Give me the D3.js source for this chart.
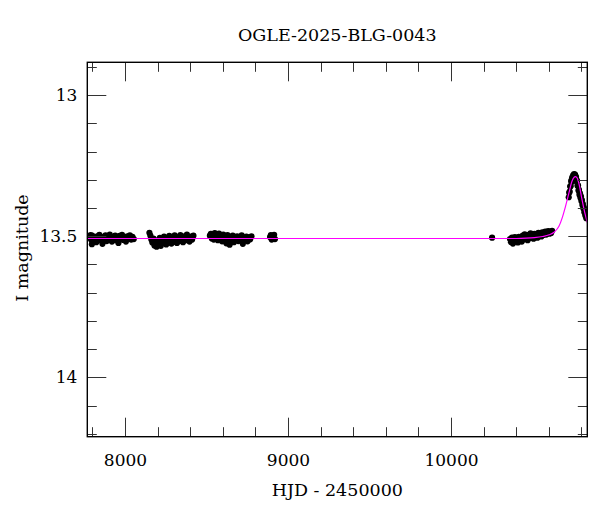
<!DOCTYPE html>
<html>
<head>
<meta charset="utf-8">
<script src="https://cdn.jsdelivr.net/npm/d3@7"></script>
<style>
  html, body { margin: 0; padding: 0; background: #fff; }
  svg { display: block; }
  text { font-family: "DejaVu Serif", "Liberation Serif", serif; fill: #000; }
</style>
</head>
<body>
<svg id="chart" width="600" height="512"></svg>
<script>
// ---------- data ----------
const title = "OGLE-2025-BLG-0043";
const xLabel = "HJD - 2450000";
const yLabel = "I magnitude";
const xTicks = [8000, 9000, 10000];
const yTicks = [13, 13.5, 14];
const xDomain = [7769, 10836];
const yDomain = [12.884, 14.21];

// photometry: [HJD-2450000, I mag]
const season1 = [
  [7786,13.505],[7789,13.496],[7792,13.512],[7797,13.528],[7799,13.498],[7805,13.516],[7811,13.503],[7818,13.509],[7824,13.521],
  [7830,13.500],[7837,13.511],[7843,13.495],[7850,13.514],[7856,13.506],[7862,13.527],[7869,13.502],
  [7875,13.512],[7881,13.497],[7888,13.517],[7894,13.507],[7901,13.513],[7907,13.494],[7914,13.508],
  [7920,13.519],[7927,13.503],[7933,13.511],[7940,13.498],[7946,13.514],[7953,13.506],[7960,13.524],
  [7967,13.499],[7974,13.510],[7982,13.495],[7990,13.513],[7998,13.505],[8006,13.519],[8014,13.500],
  [8022,13.509],[8030,13.497],[8038,13.512],[8046,13.502],[8054,13.510]
];
const season2 = [
  [8150,13.488],[8156,13.498],[8162,13.512],[8168,13.522],[8175,13.508],[8181,13.533],[8188,13.515],
  [8194,13.537],[8201,13.518],[8207,13.529],[8214,13.506],[8220,13.534],[8227,13.514],[8233,13.524],
  [8240,13.501],[8246,13.519],[8253,13.529],[8259,13.510],[8266,13.522],[8272,13.499],[8279,13.516],
  [8285,13.526],[8292,13.506],[8298,13.520],[8305,13.497],[8312,13.513],[8319,13.524],[8326,13.503],
  [8333,13.517],[8340,13.496],[8348,13.511],[8356,13.521],[8364,13.500],[8372,13.514],[8380,13.494],
  [8388,13.509],[8396,13.519],[8404,13.501],[8412,13.512],[8420,13.498]
];
const season3 = [
  [8521,13.498],[8527,13.492],[8533,13.508],[8539,13.495],[8545,13.512],[8551,13.489],[8558,13.505],
  [8564,13.497],[8570,13.514],[8577,13.491],[8583,13.507],[8590,13.499],[8596,13.518],[8603,13.494],
  [8609,13.509],[8616,13.501],[8622,13.525],[8629,13.496],[8635,13.511],[8642,13.530],[8648,13.503],
  [8655,13.515],[8661,13.498],[8668,13.521],[8674,13.505],[8681,13.513],[8688,13.500],[8695,13.517],
  [8702,13.504],[8709,13.512],[8716,13.497],[8723,13.527],[8730,13.506],[8737,13.514],[8745,13.501],
  [8752,13.518],[8760,13.504],[8768,13.511],[8776,13.500]
];
const season4 = [
  [8890,13.503],[8895,13.496],[8900,13.512],[8905,13.500],[8910,13.508],[8915,13.495],[8920,13.510]
];
const season5 = [
  [10252,13.505],
  [10362,13.510],[10368,13.521],[10374,13.505],[10380,13.526],[10386,13.512],[10392,13.503],
  [10398,13.518],[10404,13.508],[10410,13.522],[10416,13.502],[10422,13.515],[10428,13.504],
  [10434,13.519],[10440,13.498],[10446,13.511],[10452,13.493],[10458,13.508],[10464,13.500],
  [10470,13.514],[10476,13.495],[10482,13.506],[10488,13.490],[10494,13.503],[10500,13.496],
  [10506,13.509],[10512,13.492],[10518,13.502],[10524,13.494],[10530,13.505],[10536,13.488],
  [10542,13.499],[10548,13.491],[10554,13.501],[10560,13.486],[10566,13.496],[10572,13.488],
  [10578,13.484],[10584,13.494],[10590,13.486],[10596,13.482],[10602,13.491],[10608,13.484],
  [10614,13.489],[10620,13.481]
];
const season6 = [
  [10722,13.362],[10725,13.346],[10728,13.342],[10731,13.324],[10734,13.322],[10737,13.304],
  [10740,13.307],[10743,13.292],[10746,13.297],[10749,13.284],[10752,13.291],[10755,13.280],
  [10758,13.290],[10761,13.282],[10764,13.295],[10767,13.290],[10770,13.306],[10773,13.303],
  [10776,13.321],[10779,13.320],[10782,13.338],[10785,13.336],[10788,13.353],[10791,13.348],
  [10794,13.364],[10797,13.359],[10800,13.375],[10803,13.372],[10806,13.389],[10809,13.386],
  [10812,13.402],[10815,13.399],[10818,13.415],[10821,13.411],[10824,13.427],[10827,13.423],
  [10830,13.436]
];
// model curve: [HJD-2450000, I mag]
const model = [
  [7769,13.508],[10400,13.508],[10462,13.507],[10512,13.505],[10562,13.501],[10602,13.495],
  [10632,13.486],[10662,13.465],[10682,13.435],[10702,13.395],[10722,13.350],[10742,13.305],
  [10752,13.293],[10764,13.289],[10774,13.294],[10784,13.312],[10802,13.365],[10822,13.420],
  [10836,13.452]
];

// ---------- layout ----------
const svg = d3.select("#chart");
const L = 87.3, R = 587.3, T = 62.3, B = 436.7;
const x = d3.scaleLinear().domain(xDomain).range([L, R]);
const y = d3.scaleLinear().domain(yDomain).range([T, B]);

svg.append("defs").append("clipPath").attr("id", "clip")
  .append("rect").attr("x", L).attr("y", T).attr("width", R - L).attr("height", B - T);

const plot = svg.append("g").attr("clip-path", "url(#clip)");

const allPts = [].concat(season1, season2, season3, season4, season5, season6);
plot.selectAll("circle.pt").data(allPts).enter().append("circle")
  .attr("class", "pt")
  .attr("cx", d => x(d[0])).attr("cy", d => y(d[1])).attr("r", 3.1)
  .attr("fill", "#000");

plot.append("path").datum(model)
  .attr("d", d3.line().x(d => x(d[0])).y(d => y(d[1])).curve(d3.curveMonotoneX))
  .attr("fill", "none").attr("stroke", "#ff00ff").attr("stroke-width", 1.2);

// ---------- ticks (inside, all four sides) ----------
const tickG = svg.append("g").attr("stroke", "#333").attr("stroke-width", 1);
const majLen = 19, minLen = 9.5;
const xMinor = d3.range(7800, xDomain[1], 200);
const yMinor = d3.range(12.9, yDomain[1], 0.1).map(v => +v.toFixed(2));
function isMaj(v, arr) { return arr.some(a => Math.abs(a - v) < 1e-6); }
xMinor.forEach(v => {
  const len = isMaj(v, xTicks) ? majLen : minLen;
  const px = Math.round(x(v)) + 0.5;
  tickG.append("line").attr("x1", px).attr("x2", px).attr("y1", B).attr("y2", B - len);
  tickG.append("line").attr("x1", px).attr("x2", px).attr("y1", T).attr("y2", T + len);
});
yMinor.forEach(v => {
  const len = isMaj(v, yTicks) ? majLen : minLen;
  const py = Math.round(y(v)) + 0.5;
  tickG.append("line").attr("y1", py).attr("y2", py).attr("x1", L).attr("x2", L + len);
  tickG.append("line").attr("y1", py).attr("y2", py).attr("x1", R).attr("x2", R - len);
});

// frame
svg.append("rect").attr("x", L).attr("y", T).attr("width", R - L).attr("height", B - T)
  .attr("fill", "none").attr("stroke", "#000").attr("stroke-width", 1.4);

// ---------- tick labels via d3 axes ----------
const xAxis = svg.append("g").attr("transform", `translate(0,${B})`)
  .call(d3.axisBottom(x).tickValues(xTicks).tickSize(0).tickPadding(17).tickFormat(d3.format("d")));
xAxis.select(".domain").remove();
xAxis.selectAll("text").attr("font-size", 17).attr("font-family", "DejaVu Serif").attr("fill", "#000");

const yAxis = svg.append("g").attr("transform", `translate(${L},0)`)
  .call(d3.axisLeft(y).tickValues(yTicks).tickSize(0).tickPadding(10).tickFormat(d => String(d)));
yAxis.select(".domain").remove();
yAxis.selectAll("text").attr("font-size", 17).attr("font-family", "DejaVu Serif").attr("fill", "#000");

// ---------- titles ----------
svg.append("text").attr("x", (L + R) / 2).attr("y", 41).attr("text-anchor", "middle")
  .attr("font-size", 17.5).text(title);
svg.append("text").attr("x", (L + R) / 2).attr("y", 496).attr("text-anchor", "middle")
  .attr("font-size", 17.5).text(xLabel);
svg.append("text").attr("transform", "translate(28,248) rotate(-90)").attr("text-anchor", "middle")
  .attr("font-size", 17.5).text(yLabel);
</script>
</body>
</html>
